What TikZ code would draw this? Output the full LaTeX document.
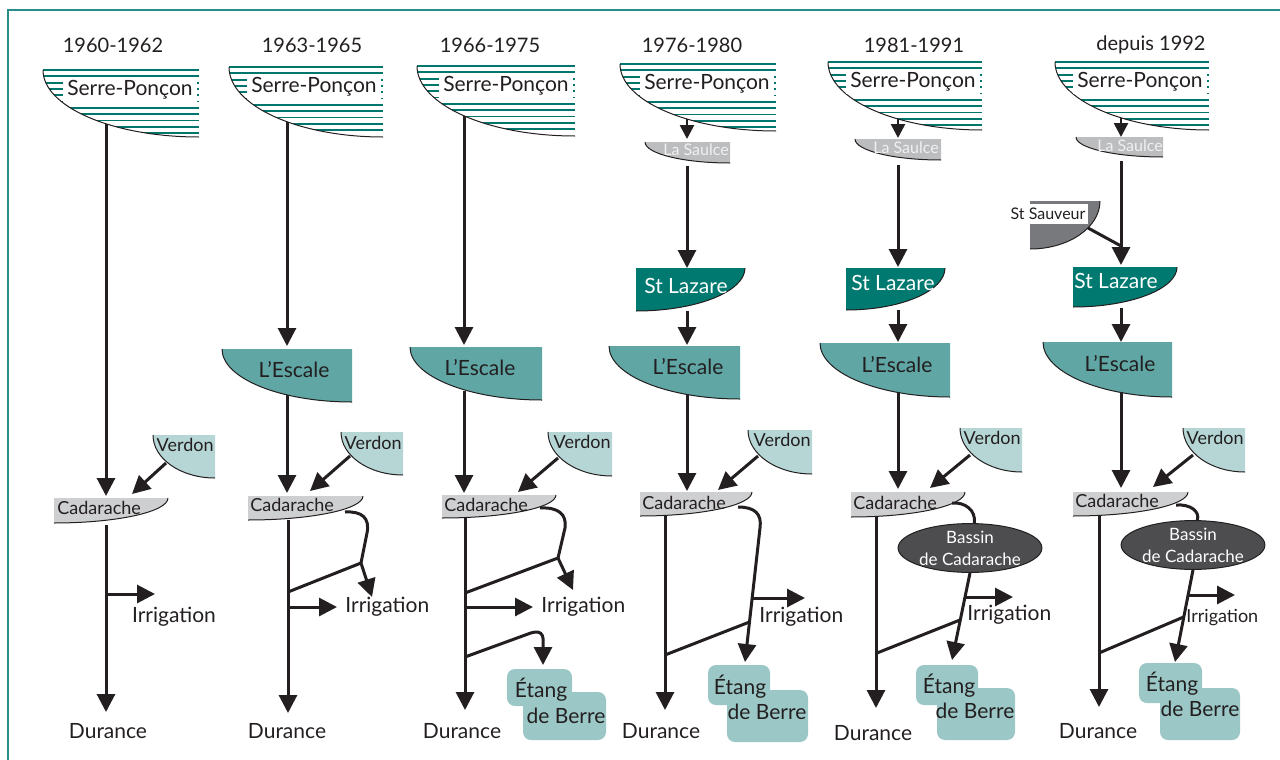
\documentclass[tikz,border=0pt]{standalone}
\usepackage{fontspec}
\setmainfont{Lato}
\usetikzlibrary{arrows.meta,shapes.geometric}
\definecolor{ink}{RGB}{35,31,32}
\definecolor{hatchTeal}{RGB}{0,118,108}
\definecolor{frameTeal}{RGB}{40,140,135}
\definecolor{escaleFill}{RGB}{95,166,164}
\definecolor{verdonFill}{RGB}{181,214,213}
\definecolor{lazareFill}{RGB}{0,122,112}
\definecolor{saulceFill}{RGB}{188,189,191}
\definecolor{cadarFill}{RGB}{206,207,209}
\definecolor{sauveurFill}{RGB}{120,121,124}
\definecolor{bassinFill}{RGB}{77,77,79}
\definecolor{etangFill}{RGB}{155,200,198}

% reservoir curved to the lower left (x1,y1,x2,y2,fill)
\newcommand{\resbowl}[5]{%
  \fill[#5] (#1,#2) -- (#3,#2) -- (#3,#4) .. controls ({#3-0.552*(#3-#1)},#4) and (#1,{#2+0.552*(#4-#2)}) .. (#1,#2) -- cycle;
  \draw[rim] (#3,#4) .. controls ({#3-0.552*(#3-#1)},#4) and (#1,{#2+0.552*(#4-#2)}) .. (#1,#2);}
% reservoir curved to the lower right (x1,y1,x2,y2,fill)
\newcommand{\resdrop}[5]{%
  \fill[#5] (#1,#2) -- (#3,#2) .. controls (#3,{#2+0.552*(#4-#2)}) and ({#1+0.552*(#3-#1)},#4) .. (#1,#4) -- cycle;
  \draw[rim] (#3,#2) .. controls (#3,{#2+0.552*(#4-#2)}) and ({#1+0.552*(#3-#1)},#4) .. (#1,#4);}
% hatched Serre-Ponçon (name,x1,y1,x2,y2)
\newcommand{\serre}[5]{%
  \begin{scope}
    \clip (#2,#3) -- (#4,#3) -- (#4,#5) .. controls ({#4-0.552*(#4-#2)},#5) and (#2,{#3+0.552*(#5-#3)}) .. (#2,#3) -- cycle;
    \foreach \k in {1,...,10}
      \draw[hatch] (#2,{#3+\k*6.3}) -- (#4,{#3+\k*6.3});
  \end{scope}
  \draw[hatch,line width=1.2pt] (#2,#3) -- (#4,#3);
  \draw[rim] (#4,#5) .. controls ({#4-0.552*(#4-#2)},#5) and (#2,{#3+0.552*(#5-#3)}) .. (#2,#3);
  \node[txt,fill=white,anchor=east,inner xsep=2pt,minimum height=12pt] (#1) at ({#4-2},{#3+20}) {Serre-Ponçon};}

\begin{document}
\begin{tikzpicture}[
  x=0.5pt,y=-0.5pt,
  txt/.style={text=ink,inner sep=0pt,font=\fontsize{10.5}{12}\selectfont},
  yearlab/.style={txt,font=\fontsize{10}{12}\selectfont},
  sml/.style={txt,font=\fontsize{9}{11}\selectfont},
  lbsmall/.style={txt,font=\fontsize{8}{10}\selectfont},
  light/.style={lbsmall,text=white!94!black},
  hatch/.style={draw=hatchTeal,line width=0.9pt},
  rim/.style={draw=ink,line width=0.5pt},
  flow/.style={draw=ink,line width=1.5pt},
  arr/.style={flow,-{Triangle[length=9pt,width=9pt]}},
  arrs/.style={draw=ink,line width=1.3pt,-{Triangle[length=7pt,width=7pt]}},
  etang/.style={fill=etangFill,rounded corners=4pt},
  bassin/.style={ellipse,fill=bassinFill,draw=ink,line width=0.5pt,minimum width=60pt,minimum height=23pt,
    inner sep=0pt,align=center,text=white,font=\fontsize{8.5}{11}\selectfont}
  ]
  \useasboundingbox (0,0) rectangle (1280,760);
  \draw[frameTeal,line width=1pt] (8,760) -- (8,10) -- (1280,10);

  % 1960-1962
  \node[yearlab] (yr1) at (113,45) {1960-1962};
  \serre{sp1}{43}{70}{199}{137}
  \resbowl{153}{435}{215}{478}{verdonFill}
  \node[sml,anchor=east] (ver1) at (214,445) {Verdon};
  \resdrop{54}{498}{168}{523}{cadarFill}
  \node[sml,anchor=west] (cad1) at (57,508) {Cadarache};
  \coordinate (s1) at (106,124);
  \coordinate (c1in) at (106,496);
  \coordinate (c1out) at (106,525);
  \coordinate (v1out) at (166,463);
  \coordinate (c1v) at (132,494);
  \coordinate (i1) at (106,594);
  \coordinate (i1t) at (155,594);
  \coordinate (d1t) at (106,712);
  \draw[arr] (s1) -- (c1in);
  \draw[arr] (v1out) -- (c1v);
  \draw[arr] (c1out) -- (d1t);
  \draw[arr] (i1) -- (i1t);
  \node[txt] (irr1) at (174,617) {Irrigation};
  \node[txt] (dur1) at (108,731) {Durance};

  % 1963-1965
  \node[yearlab] (yr2) at (312,45) {1963-1965};
  \serre{sp2}{229}{67}{383}{137}
  \resbowl{222}{349}{352}{402}{escaleFill}
  \node[txt] (esc2) at (294,370) {L'Escale};
  \resbowl{341}{432}{403}{475}{verdonFill}
  \node[sml,anchor=east] (ver2) at (402,443) {Verdon};
  \resdrop{248}{496}{363}{520}{cadarFill}
  \node[sml,anchor=west] (cad2) at (250,505) {Cadarache};
  \coordinate (s2) at (287,122);
  \coordinate (e2in) at (287,346);
  \coordinate (e2out) at (287,395);
  \coordinate (c2in) at (287,493);
  \coordinate (v2out) at (350,456);
  \coordinate (c2v) at (310,491);
  \coordinate (c2out) at (288,520);
  \coordinate (b2a) at (345,512);
  \coordinate (j2) at (361,563);
  \coordinate (k2) at (372,597);
  \coordinate (m2) at (288,592);
  \coordinate (i2) at (288,607);
  \coordinate (i2t) at (337,607);
  \coordinate (d2t) at (288,713);
  \draw[arr] (s2) -- (e2in);
  \draw[arr] (e2out) -- (c2in);
  \draw[arr] (v2out) -- (c2v);
  \draw[arr] (c2out) -- (d2t);
  \draw[flow] (b2a) .. controls (362,511) and (370,518) .. (367,533) -- (j2) -- (m2);
  \draw[arr] (j2) -- (k2);
  \draw[arr] (i2) -- (i2t);
  \node[txt,anchor=west] (irr2) at (345,607) {Irrigation};
  \node[txt] (dur2) at (287,731) {Durance};

  % 1966-1975
  \node[yearlab] (yr3) at (490,45) {1966-1975};
  \serre{sp3}{417}{66}{575}{136}
  \resbowl{410}{347}{542}{400}{escaleFill}
  \node[txt] (esc3) at (480,368) {L'Escale};
  \resbowl{548}{432}{612}{476}{verdonFill}
  \node[sml,anchor=east] (ver3) at (611,442) {Verdon};
  \resdrop{442}{495}{556}{518}{cadarFill}
  \node[sml,anchor=west] (cad3) at (444,505) {Cadarache};
  \coordinate (s3) at (464,116);
  \coordinate (e3in) at (464,345);
  \coordinate (e3out) at (464,391);
  \coordinate (c3in) at (464,493);
  \coordinate (v3out) at (558,458);
  \coordinate (c3v) at (518,492);
  \coordinate (c3out) at (465,518);
  \coordinate (b3a) at (540,508);
  \coordinate (j3) at (558,558);
  \coordinate (k3) at (573,590);
  \coordinate (m3) at (465,593);
  \coordinate (i3) at (465,607);
  \coordinate (i3t) at (533,607);
  \coordinate (m3b) at (465,657);
  \coordinate (k3b) at (543,665);
  \coordinate (d3t) at (465,710);
  \draw[arr] (s3) -- (e3in);
  \draw[arr] (e3out) -- (c3in);
  \draw[arr] (v3out) -- (c3v);
  \draw[arr] (c3out) -- (d3t);
  \draw[flow] (b3a) .. controls (558,507) and (567,514) .. (565,528) -- (j3) -- (m3);
  \draw[arr] (j3) -- (k3);
  \draw[arr] (i3) -- (i3t);
  \node[txt,anchor=west] (irr3) at (541,607) {Irrigation};
  \draw[arr] (m3b) -- (528,634) .. controls (546,627) and (543,640) .. (k3b);
  \fill[etang] (507,669) rectangle (572,706);
  \fill[etang] (523,692) rectangle (606,740);
  \node[txt] (et3) at (541,690) {Étang};
  \node[txt] (db3) at (566,716) {de Berre};
  \node[txt] (dur3) at (462,731) {Durance};

  % 1976-1980
  \node[yearlab] (yr4) at (692,45) {1976-1980};
  \serre{sp4}{620}{64}{776}{131}
  \resbowl{645}{142}{730}{163}{saulceFill}
  \node[light] (ls4) at (696,150) {La Saulce};
  \resdrop{636}{268}{745}{311}{lazareFill}
  \node[txt,text=white] (sl4) at (686,286) {St Lazare};
  \resbowl{609}{346}{740}{399}{escaleFill}
  \node[txt] (esc4) at (688,367) {L'Escale};
  \resbowl{748}{430}{812}{474}{verdonFill}
  \node[sml,anchor=east] (ver4) at (811,440) {Verdon};
  \resdrop{640}{492}{752}{516}{cadarFill}
  \node[sml,anchor=west] (cad4) at (642,503) {Cadarache};
  \coordinate (s4) at (687,119);
  \coordinate (l4in) at (687,139);
  \coordinate (l4out) at (687,166);
  \coordinate (z4in) at (687,268);
  \coordinate (z4out) at (687,311);
  \coordinate (e4in) at (687,345);
  \coordinate (e4out) at (687,394);
  \coordinate (c4in) at (687,491);
  \coordinate (v4out) at (758,456);
  \coordinate (c4v) at (718,490);
  \coordinate (c4out) at (665,516);
  \coordinate (b4a) at (738,507);
  \coordinate (k4) at (745,662);
  \coordinate (j4) at (749.5,622);
  \coordinate (m4) at (665,655);
  \coordinate (i4) at (752,598);
  \coordinate (i4t) at (805,598);
  \coordinate (d4t) at (665,710);
  \draw[arrs] (s4) -- (l4in);
  \draw[arr] (l4out) -- (z4in);
  \draw[arr] (z4out) -- (e4in);
  \draw[arr] (e4out) -- (c4in);
  \draw[arr] (v4out) -- (c4v);
  \draw[arr] (c4out) -- (d4t);
  \draw[arr] (b4a) .. controls (755,507) and (762,514) .. (760,528) -- (k4);
  \draw[flow] (m4) -- (j4);
  \draw[arr] (i4) -- (i4t);
  \node[txt,anchor=west] (irr4) at (759,617) {Irrigation};
  \fill[etang] (708,665) rectangle (770,705);
  \fill[etang] (727,690) rectangle (808,742);
  \node[txt] (et4) at (740,687) {Étang};
  \node[txt] (db4) at (767,712) {de Berre};
  \node[txt] (dur4) at (661,731) {Durance};

  % 1981-1991
  \node[yearlab] (yr5) at (914,45) {1981-1991};
  \serre{sp5}{828}{62}{982}{130}
  \resbowl{855}{139}{941}{160}{saulceFill}
  \node[light] (ls5) at (906,148) {La Saulce};
  \resdrop{846}{268}{945}{310}{lazareFill}
  \node[txt,text=white] (sl5) at (893,283) {St Lazare};
  \resbowl{820}{343}{950}{397}{escaleFill}
  \node[txt] (esc5) at (897,365) {L'Escale};
  \resbowl{960}{428}{1022}{472}{verdonFill}
  \node[sml,anchor=east] (ver5) at (1021,438) {Verdon};
  \resdrop{851}{492}{965}{517}{cadarFill}
  \node[sml,anchor=west] (cad5) at (853,503) {Cadarache};
  \node[bassin] (bas5) at (970,548) {Bassin\\de Cadarache};
  \coordinate (s5) at (898,119);
  \coordinate (l5in) at (898,138);
  \coordinate (l5out) at (898,165);
  \coordinate (z5in) at (898,267);
  \coordinate (z5out) at (898,310);
  \coordinate (e5in) at (898,342);
  \coordinate (e5out) at (898,392);
  \coordinate (c5in) at (898,489);
  \coordinate (v5out) at (970,455);
  \coordinate (c5v) at (930,488);
  \coordinate (c5out) at (876,517);
  \coordinate (b5a) at (952,503);
  \coordinate (k5) at (952,660);
  \coordinate (j5) at (960,620);
  \coordinate (m5) at (877,653);
  \coordinate (i5) at (965,597);
  \coordinate (i5t) at (1013,597);
  \coordinate (d5t) at (876,708);
  \draw[arrs] (s5) -- (l5in);
  \draw[arr] (l5out) -- (z5in);
  \draw[arr] (z5out) -- (e5in);
  \draw[arr] (e5out) -- (c5in);
  \draw[arr] (v5out) -- (c5v);
  \draw[arr] (c5out) -- (d5t);
  \draw[flow] (b5a) .. controls (965,502) and (976,510) .. (bas5.80);
  \draw[arr] (bas5.south) -- (k5);
  \draw[flow] (m5) -- (j5);
  \draw[arr] (i5) -- (i5t);
  \node[txt,anchor=west] (irr5) at (967,615) {Irrigation};
  \fill[etang] (916,665) rectangle (978,705);
  \fill[etang] (937,688) rectangle (1015,740);
  \node[txt] (et5) at (949,686) {Étang};
  \node[txt] (db5) at (975,711) {de Berre};
  \node[txt] (dur5) at (873,733) {Durance};

  % depuis 1992
  \node[yearlab] (yr6) at (1151,45) {depuis 1992};
  \serre{sp6}{1055}{62}{1209}{130}
  \resbowl{1076}{137}{1163}{157}{saulceFill}
  \node[light] (ls6) at (1130,146) {La Saulce};
  \resdrop{1030}{201}{1100}{249}{sauveurFill}
  \node[lbsmall,fill=white,inner xsep=1.5pt,inner ysep=2pt] (ss6) at (1048,214) {St Sauveur};
  \resdrop{1073}{267}{1177}{307}{lazareFill}
  \node[txt,text=white] (sl6) at (1116,281) {St Lazare};
  \resbowl{1043}{342}{1172}{397}{escaleFill}
  \node[txt] (esc6) at (1120,364) {L'Escale};
  \resbowl{1183}{428}{1245}{472}{verdonFill}
  \node[sml,anchor=east] (ver6) at (1244,438) {Verdon};
  \resdrop{1073}{492}{1188}{516}{cadarFill}
  \node[sml,anchor=west] (cad6) at (1075,501) {Cadarache};
  \node[bassin] (bas6) at (1193,545) {Bassin\\de Cadarache};
  \coordinate (s6) at (1121,118);
  \coordinate (l6in) at (1121,137);
  \coordinate (l6out) at (1121,161);
  \coordinate (z6in) at (1121,265);
  \coordinate (ss6out) at (1088,228);
  \coordinate (z6j) at (1121,246);
  \coordinate (z6out) at (1121,308);
  \coordinate (e6in) at (1121,342);
  \coordinate (e6out) at (1121,392);
  \coordinate (c6in) at (1121,488);
  \coordinate (v6out) at (1193,455);
  \coordinate (c6v) at (1153,487);
  \coordinate (c6out) at (1099,516);
  \coordinate (b6a) at (1176,505);
  \coordinate (k6) at (1175,662);
  \coordinate (j6) at (1183.6,617);
  \coordinate (m6) at (1099,653);
  \coordinate (i6) at (1188,595);
  \coordinate (i6t) at (1235,595);
  \coordinate (d6t) at (1099,707);
  \draw[arrs] (s6) -- (l6in);
  \draw[arr] (l6out) -- (z6in);
  \draw[flow] (ss6out) -- (z6j);
  \draw[arr] (z6out) -- (e6in);
  \draw[arr] (e6out) -- (c6in);
  \draw[arr] (v6out) -- (c6v);
  \draw[arr] (c6out) -- (d6t);
  \draw[flow] (b6a) .. controls (1190,504) and (1200,511) .. (bas6.80);
  \draw[arr] (bas6.south) -- (k6);
  \draw[flow] (m6) -- (j6);
  \draw[arr] (i6) -- (i6t);
  \node[sml,anchor=west] (irr6) at (1186,618) {Irrigation};
  \fill[etang] (1139,663) rectangle (1202,703);
  \fill[etang] (1160,688) rectangle (1240,740);
  \node[txt] (et6) at (1172,684) {Étang};
  \node[txt] (db6) at (1200,709) {de Berre};
  \node[txt] (dur6) at (1098,731) {Durance};
\end{tikzpicture}
\end{document}
